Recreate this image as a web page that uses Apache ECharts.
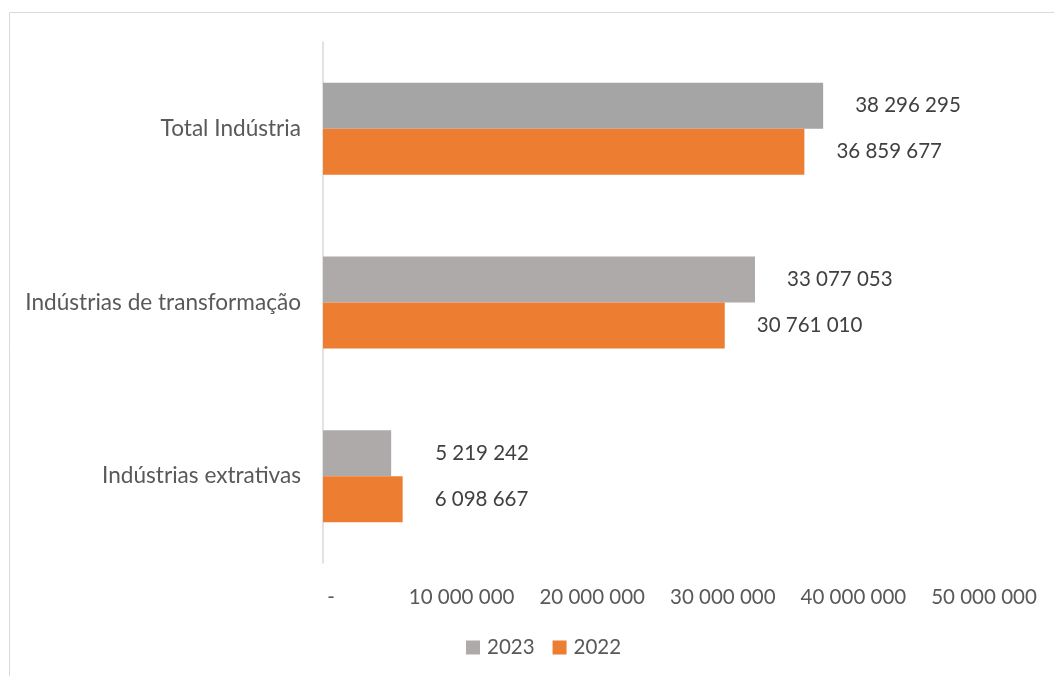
<!DOCTYPE html>
<html>
<head>
<meta charset="utf-8">
<script src="https://cdn.jsdelivr.net/npm/echarts@6/dist/echarts.min.js"></script>
<style>
  html, body { margin: 0; padding: 0; background: #fff; }
  #chart { width: 1054px; height: 676px; }
</style>
</head>
<body>
<div id="chart"></div>
<script>
// Categories listed bottom to top along the vertical axis
const categories = ['Indústrias extrativas', 'Indústrias de transformação', 'Total Indústria'];
const values2023 = [5219242, 33077053, 38296295];
const values2022 = [6098667, 30761010, 36859677];
const axisTicks = [0, 10000000, 20000000, 30000000, 40000000, 50000000];

const TEXT = '#595959';
const FONT = 'Lato';
const NUM_SIZE = 20.5;

function fmt(v) {
  if (v === 0) return '-';
  return String(Math.round(v)).replace(/\B(?=(\d{3})+(?!\d))/g, ' ');
}

const chart = echarts.init(document.getElementById('chart'), null, { renderer: 'canvas' });

const labelStyle = {
  show: true,
  position: 'right',
  distance: 32,
  color: '#404040',
  fontFamily: FONT,
  fontSize: NUM_SIZE,
  formatter: p => fmt(p.value)
};

chart.setOption({
  backgroundColor: '#fff',
  animation: false,
  graphic: [{
    type: 'rect',
    shape: { x: 9.5, y: 12.5, width: 1100, height: 700 },
    style: { fill: 'none', stroke: '#D9D9D9', lineWidth: 1 },
    silent: true
  }],
  legend: {
    data: ['2023', '2022'],
    bottom: 13,
    left: 461,
    itemWidth: 14,
    itemHeight: 14,
    itemGap: 18,
    icon: 'rect',
    textStyle: { color: TEXT, fontFamily: FONT, fontSize: NUM_SIZE, padding: [0, 0, 0, 2] }
  },
  grid: { left: 323, right: 78, top: 42, bottom: 113, containLabel: false },
  xAxis: {
    type: 'value',
    min: axisTicks[0],
    max: axisTicks[axisTicks.length - 1],
    interval: axisTicks[1] - axisTicks[0],
    axisLine: { show: false },
    axisTick: { show: false },
    splitLine: { show: false },
    axisLabel: {
      color: TEXT, fontFamily: FONT, fontSize: NUM_SIZE, margin: 24,
      padding: [0, 0, 0, 16],
      formatter: v => fmt(v)
    }
  },
  yAxis: {
    type: 'category',
    data: categories,
    axisLine: { show: true, lineStyle: { color: '#D9D9D9', width: 1.5 } },
    axisTick: { show: false },
    axisLabel: { color: TEXT, fontFamily: FONT, fontSize: 22.6, margin: 22 }
  },
  series: [
    {
      name: '2023',
      type: 'bar',
      data: values2023.map((v, i) => {
        if (i === 2) return { value: v, itemStyle: { color: '#A5A5A5' } };
        if (i === 0) return { value: v, label: { distance: 44 } };
        return v;
      }),
      barGap: '0%',
      barCategoryGap: '47%',
      itemStyle: { color: '#AEAAAA' },
      label: labelStyle
    },
    {
      name: '2022',
      type: 'bar',
      data: values2022,
      barGap: '0%',
      barCategoryGap: '47%',
      itemStyle: { color: '#ED7D31' },
      label: labelStyle
    }
  ]
});
</script>
</body>
</html>
